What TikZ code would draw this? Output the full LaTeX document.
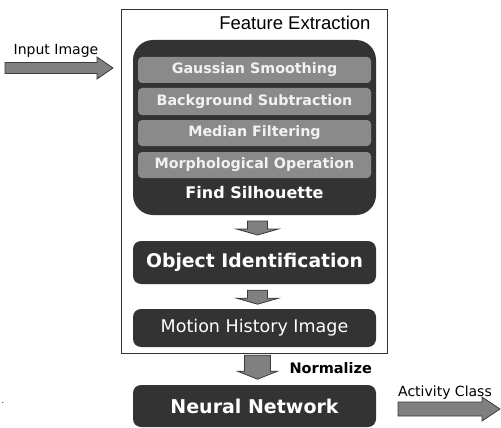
\documentclass[tikz,border=0pt]{standalone}
\usepackage{fontspec}
\setmainfont{DejaVu Sans}
\newfontfamily\arialfont{Liberation Sans}
\usetikzlibrary{calc}

\definecolor{boxdark}{HTML}{333333}
\definecolor{bargray}{HTML}{8A8A8A}
\definecolor{bartext}{HTML}{F2F2F2}
\definecolor{arrowfill}{HTML}{808080}
\definecolor{arrowedge}{HTML}{3A3A3A}

\tikzset{
  darkbox/.style={fill=boxdark, draw=none, text=white, font=\bfseries\fontsize{18.8}{20}\selectfont},
  stagebar/.style={fill=bargray, draw=none, rounded corners=4pt, text=bartext,
    font=\bfseries\fontsize{14.3}{16}\selectfont},
  blockarrow/.style={fill=arrowfill, draw=arrowedge, line width=0.8pt, line join=miter},
  % downward block arrow: shaft half-width, shaft length, head half-width, head length
  pics/darr/.style n args={4}{code={
    \path[blockarrow] (-#1,0) -- (#1,0) -- (#1,#2) -- (#3,#2) -- (0,#2+#4)
      -- (-#3,#2) -- (-#1,#2) -- cycle;
  }},
  % rightward block arrow: shaft half-height, shaft length, head half-height, head length
  pics/rarr/.style n args={4}{code={
    \path[blockarrow] (0,-#1) -- (#2,-#1) -- (#2,-#3) -- (#2+#4,0) -- (#2,#3)
      -- (#2,#1) -- (0,#1) -- cycle;
  }},
}

\begin{document}
\begin{tikzpicture}[x=1pt, y=-1pt]
  \useasboundingbox (0,0) rectangle (501,428);

  % outer frame of the feature extraction stage
  \draw[line width=0.8pt, draw=black!80] (121,9) rectangle (387,353);
  \node[anchor=east, font=\arialfont\fontsize{18.5}{20}\selectfont] (fetitle) at (374,23) {Feature Extraction};

  % dark block holding the preprocessing steps
  \path[fill=boxdark, rounded corners=20pt] (133,40) rectangle (376,215);
  \node[stagebar, minimum width=233pt, minimum height=26pt] (gauss) at (254.5,70) {Gaussian Smoothing};
  \node[stagebar, minimum width=233pt, minimum height=27pt] (bgsub) at (254.5,101.5) {Background Subtraction};
  \node[stagebar, minimum width=233pt, minimum height=26pt] (median) at (254.5,133) {Median Filtering};
  \node[stagebar, minimum width=233pt, minimum height=26pt] (morph) at (254.5,165) {Morphological Operation};
  \node[text=white, font=\bfseries\fontsize{16}{18}\selectfont] (sil) at (254.5,193) {Find Silhouette};
  \coordinate (fe) at (254.5,215);

  % later stages
  \node[darkbox, rounded corners=8pt, minimum width=243pt, minimum height=43pt] (objid) at (254.5,262.5) {Object Identification};
  \node[darkbox, rounded corners=8pt, minimum width=243pt, minimum height=38pt,
        font=\fontsize{17.5}{20}\selectfont] (mhi) at (254.5,328) {Motion History Image};
  \node[darkbox, rounded corners=8pt, minimum width=243pt, minimum height=42pt,
        font=\bfseries\fontsize{19}{21}\selectfont] (nn) at (254.5,406) {Neural Network};

  % arrows between the stages
  \path ($(fe)+(3,6)$) pic {darr={10}{8}{21}{6}};
  \path ($(objid.south)+(3,6)$) pic {darr={10}{8}{21}{6}};
  \path ($(mhi.south)+(3,8)$) pic {darr={13}{16}{20}{8}};
  \node[anchor=west, font=\bfseries\fontsize{14.5}{16}\selectfont] (norm) at (286,368) {Normalize};

  % input and output
  \node[font=\fontsize{14}{16}\selectfont] (inlabel) at (56,51) {Input Image};
  \coordinate (instart) at (5,68);
  \path (instart) pic {rarr={5.5}{92}{11}{16}};
  \node[font=\fontsize{14}{16}\selectfont] (outlabel) at (445,393) {Activity Class};
  \coordinate (outstart) at (398,409);
  \path (outstart) pic {rarr={7}{84}{12}{18}};

  \node[font=\fontsize{8}{9}\selectfont, inner sep=0pt] (dot) at (3,403) {.};
\end{tikzpicture}
\end{document}
